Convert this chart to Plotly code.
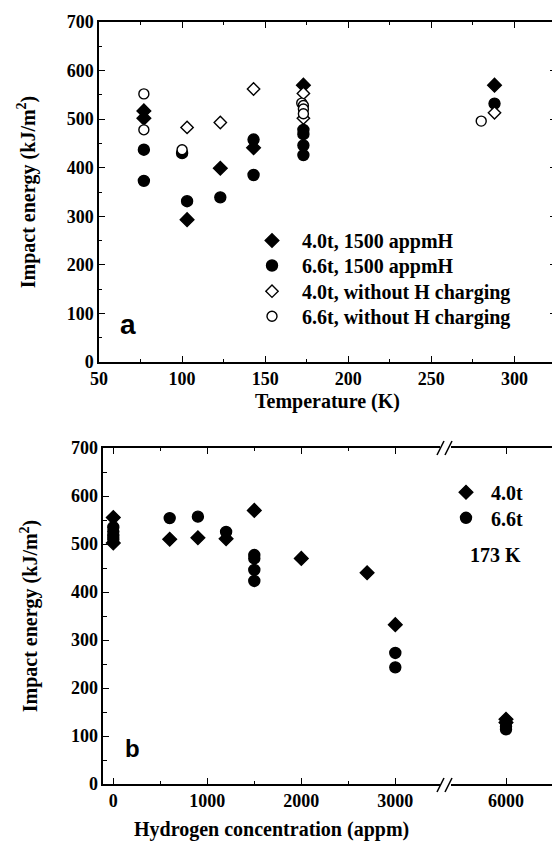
import plotly.graph_objects as go

# ---------------- Data: panel a (Temperature) ----------------
t_40_h = [77, 77, 103, 123, 143, 173, 288]
e_40_h = [517, 502, 293, 399, 441, 570, 570]

t_66_h = [77, 77, 100, 103, 123, 143, 143, 173, 173, 173, 173, 288]
e_66_h = [437, 373, 430, 331, 339, 458, 385, 478, 469, 446, 426, 532]

t_40_n = [103, 123, 143, 173, 173, 288]
e_40_n = [483, 493, 562, 553, 502, 513]

t_66_n = [77, 77, 100, 172, 173, 173, 173, 280]
e_66_n = [552, 478, 437, 533, 528, 521, 511, 496]

# ---------------- Data: panel b (Hydrogen concentration) ----------------
h_40 = [0, 0, 600, 900, 1200, 1500, 2000, 2700, 3000, 6000, 6000]
e_40 = [555, 502, 510, 513, 511, 570, 470, 440, 332, 135, 128]

h_66 = [0, 0, 0, 0, 600, 900, 1200, 1500, 1500, 1500, 1500, 3000, 3000, 6000, 6000]
e_66 = [535, 526, 517, 510, 554, 557, 525, 477, 470, 446, 423, 273, 243, 120, 114]

x_ticks_b_left = [0, 1000, 2000, 3000]
x_ticks_b_right = [6000]
BREAK = 3500

# page body margin offsets the figure by 8 px
OFF = 8
W, H = 560 - OFF, 841 - OFF
ML, MR, MT, MB = 52, 0, 2, 32
FONT = "Liberation Serif, Times New Roman, serif"
SANS = "Liberation Sans, Arial, sans-serif"
BLACK = "black"

def px(x):
    return (x - OFF - ML) / (W - ML - MR)

def py(y):
    return (H - MB - (y - OFF)) / (H - MT - MB)

fig = go.Figure()

def mk(symbol, filled, size):
    return dict(symbol=symbol, size=size,
                color=BLACK if filled else "white",
                line=dict(color=BLACK, width=1.4))

# Panel a traces (each in its own one-row legend)
fig.add_trace(go.Scatter(x=t_40_h, y=e_40_h, mode="markers", name="4.0t, 1500 appmH",
                         marker=mk("diamond", True, 10.5), xaxis="x", yaxis="y", legend="legend"))
fig.add_trace(go.Scatter(x=t_66_h, y=e_66_h, mode="markers", name="6.6t, 1500 appmH",
                         marker=mk("circle", True, 11), xaxis="x", yaxis="y", legend="legend2"))
fig.add_trace(go.Scatter(x=t_40_n, y=e_40_n, mode="markers", name="4.0t, without H charging",
                         marker=mk("diamond", False, 9.5), xaxis="x", yaxis="y", legend="legend3"))
fig.add_trace(go.Scatter(x=t_66_n, y=e_66_n, mode="markers", name="6.6t, without H charging",
                         marker=mk("circle", False, 10), xaxis="x", yaxis="y", legend="legend4"))

# Panel b traces (split across the axis break)
def split(xs, ys):
    lx = [x for x in xs if x < BREAK]
    ly = [y for x, y in zip(xs, ys) if x < BREAK]
    rx = [x for x in xs if x >= BREAK]
    ry = [y for x, y in zip(xs, ys) if x >= BREAK]
    return lx, ly, rx, ry

for xs, ys, name, sym, size, leg in [(h_40, e_40, "4.0t", "diamond", 10.5, "legend5"),
                                     (h_66, e_66, "6.6t", "circle", 11, "legend6")]:
    lx, ly, rx, ry = split(xs, ys)
    fig.add_trace(go.Scatter(x=lx, y=ly, mode="markers", name=name, legendgroup=name,
                             marker=mk(sym, True, size), xaxis="x3", yaxis="y2", legend=leg))
    fig.add_trace(go.Scatter(x=rx, y=ry, mode="markers", name=name, legendgroup=name,
                             showlegend=False,
                             marker=mk(sym, True, size), xaxis="x4", yaxis="y3", legend=leg))

tickfont = dict(family=FONT, size=18, color=BLACK, weight="bold")
titlefont = dict(family=FONT, size=20, color=BLACK, weight="bold")
legfont = dict(family=FONT, size=20, color=BLACK, weight="bold")
axis_common = dict(showline=True, linecolor=BLACK, linewidth=1.5, ticks="inside",
                   ticklen=6, tickwidth=1.3, tickcolor=BLACK, showgrid=False,
                   zeroline=False, tickfont=tickfont, automargin=False)
minor_x = lambda d: dict(dtick=d, ticks="inside", ticklen=3.5, tickwidth=1.2, tickcolor=BLACK, showgrid=False)

# top plot (reference pixels): x 99..556, y 22..362
top_dom_x = [px(99), px(556)]
top_dom_y = [py(362), py(22)]
# bottom plot: x 103..560, y 448..784
bot_dom_y = [py(784), py(448)]
left_dom_x = [px(103.3), px(440)]
right_dom_x = [px(451), 1.0]

scale_b = (395.3 - 113.3) / 3000.0
left_range = [0 - (113.3 - 103.3) / scale_b, 3000 + (440 - 395.3) / scale_b]
right_range = [6000 - (506 - 451) / scale_b, 6000 + (560 - 506) / scale_b]

def leg(xm, yrow, itemw):
    return dict(x=px(xm), y=py(yrow - 20), xanchor="left", yanchor="top",
                bgcolor="rgba(0,0,0,0)", font=legfont, itemsizing="trace",
                itemwidth=itemw, tracegroupgap=0, visible=True)

fig.update_layout(
    width=W, height=H, margin=dict(l=ML, r=MR, t=MT, b=MB),
    paper_bgcolor="white", plot_bgcolor="white", showlegend=True,
    font=dict(family=FONT, color=BLACK),
    xaxis=dict(**axis_common, domain=top_dom_x, anchor="y", range=[50, 325], dtick=50,
               tick0=50, mirror="ticks", minor=minor_x(25),
               title=dict(text="Temperature (K)", font=titlefont, standoff=6)),
    yaxis=dict(**axis_common, domain=top_dom_y, anchor="x", range=[0, 700], dtick=100,
               mirror="ticks", minor=minor_x(50),
               title=dict(text="Impact energy (kJ/m<sup>2</sup>)", font=titlefont, standoff=26)),
    xaxis3=dict(**axis_common, domain=left_dom_x, anchor="y2", range=left_range,
                tickvals=x_ticks_b_left, mirror="ticks", minor=minor_x(500),
                title=dict(text="Hydrogen concentration (appm)", font=titlefont, standoff=12)),
    xaxis4=dict(**axis_common, domain=right_dom_x, anchor="y3", range=right_range,
                tickvals=x_ticks_b_right, mirror="ticks"),
    yaxis2=dict(**axis_common, domain=bot_dom_y, anchor="x3", range=[0, 700], dtick=100,
                minor=minor_x(50),
                title=dict(text="Impact energy (kJ/m<sup>2</sup>)", font=titlefont, standoff=28)),
    yaxis3=dict(**axis_common, domain=bot_dom_y, anchor="x4", range=[0, 700], dtick=100,
                side="right", showticklabels=False, minor=minor_x(50), matches="y2"),
    legend=leg(242, 241, 50),
    legend2=leg(242, 266, 50),
    legend3=leg(242, 291.7, 50),
    legend4=leg(242, 316.7, 50),
    legend5=leg(441, 492.7, 40),
    legend6=leg(441, 518.3, 40),
)

annotations = [
    dict(text="a", x=67.5, y=78, xref="x", yref="y", showarrow=False,
         font=dict(family=SANS, size=28, color=BLACK, weight="bold")),
    dict(text="b", x=199, y=73, xref="x3", yref="y2", showarrow=False,
         font=dict(family=SANS, size=24, color=BLACK, weight="bold")),
    dict(text="173 K", x=6185, y=477, xref="x4", yref="y3", xanchor="right",
         showarrow=False, font=dict(family=FONT, size=20, color=BLACK, weight="bold")),
]
fig.update_layout(annotations=annotations)

# axis-break marks
shapes = []
for yc in (448, 785):
    for x0 in (437, 445):
        shapes.append(dict(type="line", xref="paper", yref="paper",
                           x0=px(x0), y0=py(yc + 7), x1=px(x0 + 7), y1=py(yc - 7),
                           line=dict(color=BLACK, width=1.5), layer="above"))
fig.update_layout(shapes=shapes)

fig.write_html("out.html")
